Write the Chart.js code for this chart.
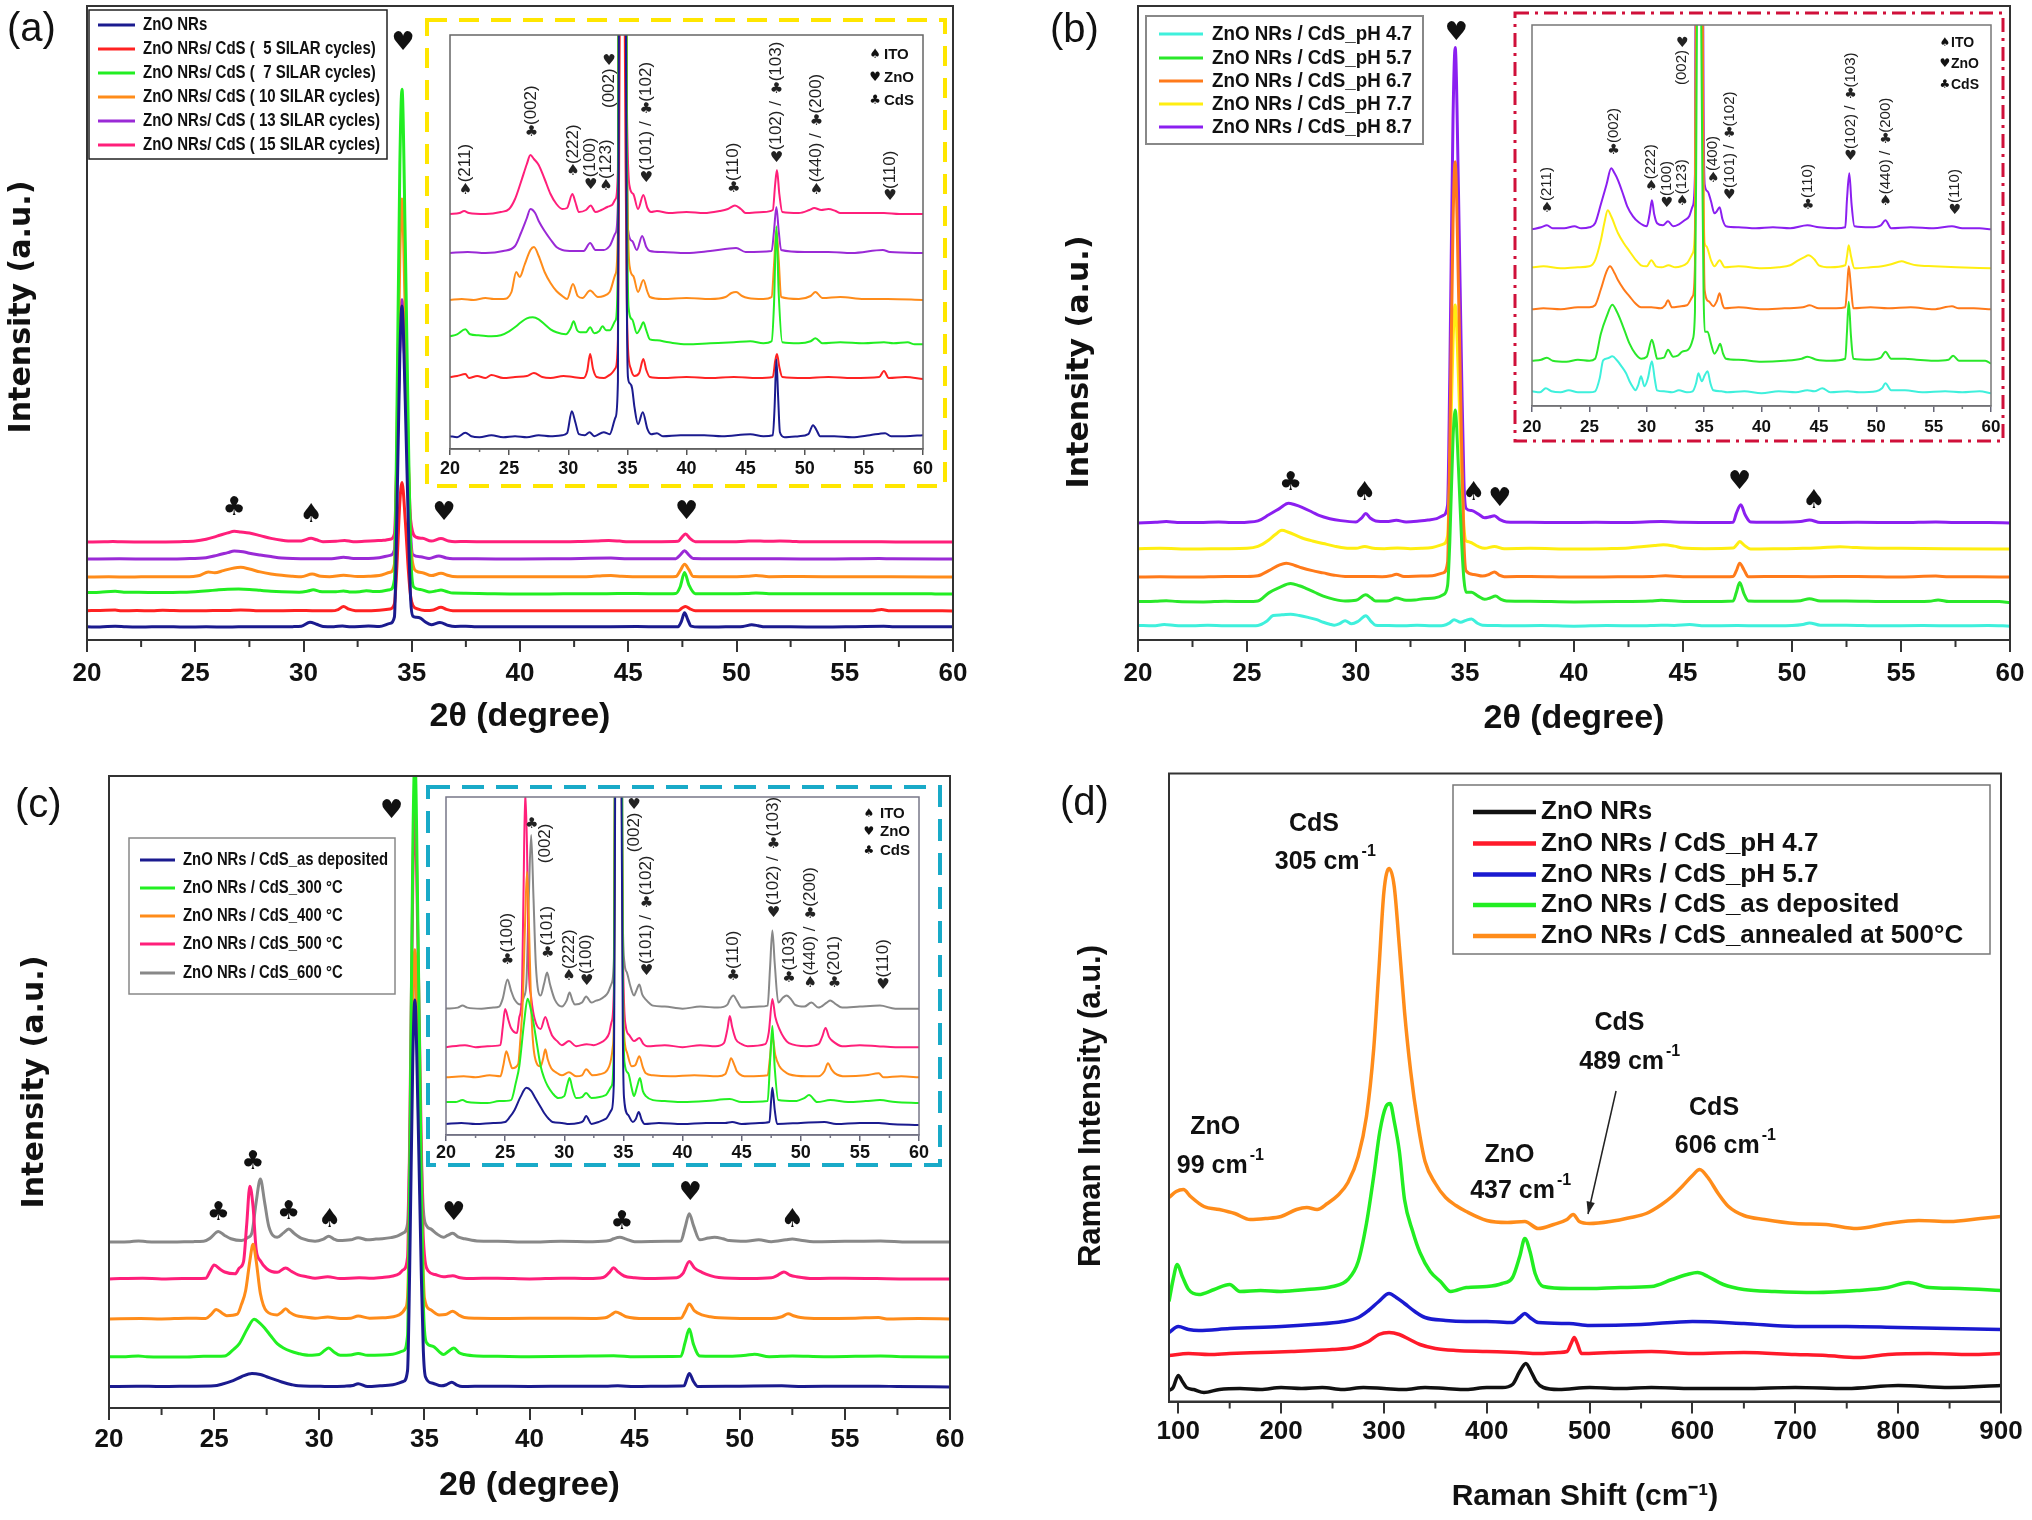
<!DOCTYPE html>
<html><head><meta charset="utf-8">
<script src="https://cdn.jsdelivr.net/npm/chart.js@4.4.0/dist/chart.umd.min.js"></script>
<style>
html,body{margin:0;padding:0;background:#fff;}
#page{position:relative;width:2032px;height:1520px;overflow:hidden;background:#fff;}
canvas{position:absolute;}
.plab{position:absolute;font-family:'Liberation Sans',Arial,sans-serif;font-size:40px;color:#111;line-height:40px;}
</style></head><body><div id="page">
<canvas id="cA" width="1016" height="760" style="left:0px;top:0px;width:1016px;height:760px"></canvas>
<canvas id="cB" width="992" height="760" style="left:1040px;top:0px;width:992px;height:760px"></canvas>
<canvas id="cC" width="1016" height="760" style="left:0px;top:760px;width:1016px;height:760px"></canvas>
<canvas id="cD" width="992" height="760" style="left:1040px;top:760px;width:992px;height:760px"></canvas>
<canvas id="iA" width="535" height="482" style="left:420px;top:12px;width:535px;height:482px"></canvas>
<canvas id="iB" width="510" height="445" style="left:1505px;top:5px;width:510px;height:445px"></canvas>
<canvas id="iC" width="530" height="395" style="left:420px;top:778px;width:530px;height:395px"></canvas>
<div class="plab" style="left:7px;top:7px">(a)</div>
<div class="plab" style="left:1050px;top:8px">(b)</div>
<div class="plab" style="left:15px;top:783px">(c)</div>
<div class="plab" style="left:1060px;top:781px">(d)</div>
</div>
<script>
// ======================= DATA =======================
const xTicksXRD = [20, 25, 30, 35, 40, 45, 50, 55, 60];
const minorXRD = [22.5, 27.5, 32.5, 37.5, 42.5, 47.5, 52.5, 57.5];
const ramanTicks = [100, 200, 300, 400, 500, 600, 700, 800, 900];
const ramanMinor = [150, 250, 350, 450, 550, 650, 750, 850];

// ---- (a) SILAR cycles : [2theta, intensity above own baseline] ----
const labelsA = ['ZnO NRs', 'ZnO NRs/ CdS (  5 SILAR cycles)', 'ZnO NRs/ CdS (  7 SILAR cycles)',
  'ZnO NRs/ CdS ( 10 SILAR cycles)', 'ZnO NRs/ CdS ( 13 SILAR cycles)', 'ZnO NRs/ CdS ( 15 SILAR cycles)'];
const a_ZnO = [[20,1],[20.6,0],[21.3,4.4],[21.8,1],[22.5,0],[23.5,2],[24.5,0],[25.5,1],[26.5,0],[27.5,2],[28.5,1],[29.5,2],[29.9,4],[30.3,26],[30.6,15],[30.9,3],[31.4,2],[31.8,5],[32.2,1],[33.0,5],[33.5,3],[34.0,20],[34.2,56],[34.3,530],[34.45,1500],[34.55,1766],[34.7,1240],[34.85,530],[34.95,150],[35.05,60],[35.2,54],[35.4,49],[35.6,30],[35.9,13],[36.3,25],[36.7,8],[37.0,3],[37.5,4],[38,1],[39.5,2],[41.5,2],[43,1],[45.4,3],[46.5,1],[47.3,2],[47.45,30],[47.6,78],[47.75,40],[47.9,5],[48.3,0],[49.5,1],[50.3,3],[50.7,12],[51.0,7],[51.3,1],[52.5,1],[54,0],[55.5,2],[56.8,4],[57.3,1],[58.5,1],[60,2]];
const a_S5 = [[20,2],[20.6,3],[21.3,5],[21.6,1],[22.3,3],[23,1],[23.5,4],[24.5,1],[25.5,2],[26.5,3],[27.1,6],[27.8,2],[28.5,1],[29.6,3],[30.4,2],[31.3,1],[31.6,8],[31.85,25],[32.1,10],[32.4,2],[33.0,1],[33.5,4],[34.0,11],[34.2,40],[34.3,212],[34.45,600],[34.55,707],[34.7,500],[34.85,212],[34.95,80],[35.05,31],[35.3,10],[35.6,3],[36.0,6],[36.35,20],[36.6,9],[36.9,2],[38,1],[40,2],[42,1],[44,2],[46,1],[47.3,2],[47.5,18],[47.65,25],[47.85,12],[48.1,2],[50,1],[52,2],[54,1],[56.3,2],[56.7,8],[57.1,1],[58.5,2],[60,0]];
const a_S7 = [[20,8],[20.6,10],[21.3,15],[21.7,10],[22.4,9],[23.5,8],[24.3,9],[25.0,13],[25.6,18],[26.0,22],[26.5,26],[27.0,27],[27.5,25],[28.0,20],[28.5,15],[29.0,12],[29.8,10],[30.2,16],[30.45,23],[30.75,14],[31.0,12],[31.5,12],[31.85,17],[32.2,11],[32.6,13],[32.9,18],[33.2,14],[33.5,14],[34.0,24],[34.2,80],[34.3,830],[34.45,2360],[34.55,2776],[34.7,1940],[34.85,830],[34.95,230],[35.1,37],[35.4,25],[35.8,11],[36.1,16],[36.35,22],[36.6,14],[36.9,5],[37.5,4],[38.5,2],[40,0],[42,1],[44,2],[45.4,3],[46.5,1],[47.2,3],[47.4,40],[47.6,118],[47.8,50],[48.1,2],[49.5,1],[50.5,3],[50.9,6],[51.5,1],[53,2],[55,1],[56.7,2],[57.5,1],[58.7,2],[59.3,0],[60,0]];
const a_S10 = [[20,0],[21,1],[22,0],[23,2],[23.7,1],[24.5,1],[25.2,8],[25.6,28],[25.9,23],[26.3,35],[26.8,50],[27.1,53],[27.5,44],[28.0,28],[28.5,17],[29.0,9],[29.5,4],[29.9,1],[30.4,16],[30.8,4],[31.2,2],[31.85,9.5],[32.5,3],[33.0,4],[33.5,8],[34.0,26],[34.2,70],[34.3,620],[34.45,1770],[34.55,2079],[34.7,1460],[34.85,620],[34.95,180],[35.2,33],[35.5,24],[35.9,8],[36.35,20],[36.7,8],[36.9,3],[38,1],[40,2],[42,1],[43.3,3],[43.8,7],[44.2,8],[44.7,4],[45.2,2],[46.5,1],[47.2,3],[47.4,35],[47.6,70],[47.8,40],[48.0,3],[49.5,1],[50.5,4],[50.9,8],[51.5,2],[53,3],[55,1],[57,1],[60,0]];
const a_S13 = [[20,0],[21.5,1],[23,0],[24.5,2],[25.5,7],[26.0,20],[26.5,35],[26.8,44],[27.2,40],[27.5,32],[28.0,22],[28.5,13.5],[29.0,6],[29.5,3],[30.4,2],[31.3,2],[31.85,10],[32.3,3],[33.0,3],[33.5,7],[34.0,20],[34.2,50],[34.3,430],[34.45,1210],[34.55,1426],[34.7,1000],[34.85,430],[34.95,130],[35.05,24],[35.4,12],[35.8,3],[36.25,17],[36.6,6],[36.9,2],[38,1],[40,0],[42,2],[44.2,5],[45,1],[47.2,2],[47.4,22],[47.6,46],[47.8,22],[48.0,3],[50,1],[52,1],[54,0],[56.6,3],[57.2,1],[60,0]];
const a_S15 = [[20,0],[20.8,1],[21.2,3],[21.6,1],[23,0],[24.3,2],[25.0,5],[25.5,15],[26.0,32],[26.5,50],[26.8,59],[27.1,55],[27.5,49],[28.0,35],[28.5,20],[29.0,10],[29.5,5],[29.9,6],[30.35,20],[30.6,12],[30.9,2],[31.5,4],[31.9,8.5],[32.3,2],[32.8,4],[33.3,7],[33.7,9],[34.0,15],[34.2,45],[34.3,390],[34.45,1110],[34.55,1307],[34.7,915],[34.85,390],[34.95,120],[35.2,27],[35.5,20],[35.9,5],[36.35,19],[36.7,6],[37.0,2],[37.5,3],[38.5,1],[40,2],[41.5,1],[42.8,3],[43.5,5],[44.1,8.5],[44.6,5],[45,1],[46.5,2],[47.3,4],[47.5,30],[47.65,44],[47.85,20],[48.1,2],[49.5,1],[50.4,4],[50.8,6],[51.4,4],[52,5],[52.6,3],[53,1],[55,1],[56.7,1],[58,0],[60,0]];
const offA_main = [71.5, 159.5, 253, 346.5, 445.5, 539];
const offA_inset = [11.8, 70, 104.7, 149, 196, 235];

// ---- (b) pH ----
const labelsB = ['ZnO NRs / CdS_pH 4.7', 'ZnO NRs / CdS_pH 5.7', 'ZnO NRs / CdS_pH 6.7', 'ZnO NRs / CdS_pH 7.7', 'ZnO NRs / CdS_pH 8.7'];
const b_pH47 = [[20,2],[20.7,1],[21.2,5],[21.7,2],[22.5,1],[23.2,3],[24,1],[25.0,1],[25.5,2],[25.9,15],[26.2,33],[26.6,35],[27.0,37],[27.4,33],[27.8,27],[28.2,20],[28.5,12],[28.8,6],[29.0,3],[29.25,8],[29.5,17],[29.8,7],[30.1,15],[30.45,32],[30.7,14],[30.9,3],[31.5,2],[32.2,1],[32.8,3],[33.5,1],[34.0,2],[34.3,10],[34.5,20],[34.8,12],[35.05,18],[35.3,22],[35.55,10],[35.8,3],[36.5,2],[37,1],[38.5,2],[40,0],[41.5,2],[43,1],[44.0,3],[44.6,2],[45.3,5],[46,1],[47.5,2],[48.5,1],[50.0,2],[50.5,5],[50.8,10],[51.3,3],[52.5,3],[54,1],[56,2],[57.5,1],[59,2],[60,0]];
const b_pH57 = [[20,1],[20.8,2],[21.3,4],[21.8,1],[23,0],[24,2],[25.0,1],[25.5,3],[26.0,28],[26.5,45],[27.0,57],[27.4,50],[27.7,42],[28.1,30],[28.5,18],[29.0,8],[29.5,3],[30.0,5],[30.45,22],[30.7,12],[30.9,3],[31.5,4],[31.85,12],[32.3,5],[32.7,6],[33.1,10],[33.6,12],[34.0,22],[34.2,50],[34.3,180],[34.45,505],[34.55,595],[34.7,415],[34.85,180],[34.95,70],[35.05,30],[35.3,30],[35.6,18],[35.9,8],[36.15,12],[36.4,18],[36.65,8],[36.9,3],[38,2],[40,0],[42,1],[43.5,3],[44.0,5],[44.8,2],[46,1],[47.3,3],[47.45,30],[47.6,60],[47.8,25],[48.0,3],[49.5,2],[50.4,4],[50.8,10],[51.3,3],[52.5,3],[53.5,2],[55,1],[56.3,2],[56.7,6],[57.2,1],[58.5,1],[59.5,1],[60,-2]];
const b_pH67 = [[20,0],[21,1],[22.5,0],[24,2],[25.0,2],[25.5,4],[26.0,20],[26.5,38],[26.8,43],[27.2,36],[27.5,29],[28.0,20],[28.5,13],[29.0,6],[29.5,2],[30.4,2],[31.2,1],[31.6,4],[31.85,9],[32.2,2],[33.0,3],[33.5,4],[34.0,13],[34.2,45],[34.3,390],[34.45,1095],[34.55,1287],[34.7,900],[34.85,390],[34.95,110],[35.05,19],[35.4,8],[35.8,3],[36.1,8],[36.35,16],[36.6,5],[36.8,1],[38,2],[40,0],[42,1],[43.6,2],[44.2,4],[45,1],[46.5,1],[47.3,2],[47.45,20],[47.6,43],[47.8,22],[48.0,1],[49.5,2],[51,1],[53,2],[55,0],[56.6,3],[57.2,1],[58.5,1],[60,0]];
const b_pH77 = [[20,1],[21,2],[22.5,0],[24,1],[25.0,2],[25.5,8],[26.0,28],[26.3,45],[26.6,58],[26.9,52],[27.5,35],[28.0,25],[28.5,17],[29.0,9],[29.5,3],[30.0,2],[30.4,8],[30.8,2],[31.3,1],[31.9,3],[32.5,1],[33.0,2],[33.5,5],[34.0,15],[34.2,40],[34.3,230],[34.45,640],[34.55,756],[34.7,530],[34.85,230],[34.95,70],[35.05,25],[35.2,22],[35.6,8],[35.9,2],[36.35,8],[36.8,1],[38,2],[40,0],[41.5,1],[42.5,3],[43.2,8],[43.7,11],[44.1,13],[44.6,9],[45.0,3],[46,1],[47.3,3],[47.45,12],[47.6,23],[47.8,12],[48.1,0],[49.5,1],[50.5,2],[51.3,4],[52.2,7],[52.8,5],[53.5,3],[55,2],[57,1],[60,0]];
const b_pH87 = [[20,0],[20.8,2],[21.3,4],[21.8,1],[22.8,1],[23.7,3],[24.3,1],[25.0,2],[25.5,6],[26.0,25],[26.5,45],[26.9,61],[27.2,56],[27.5,49],[28.0,33],[28.3,23],[28.8,13],[29.3,7],[30.0,3],[30.25,15],[30.45,29],[30.65,15],[30.9,6],[31.4,4],[31.85,8],[32.3,3],[32.8,5],[33.3,9],[33.7,13],[34.0,23],[34.2,55],[34.3,445],[34.45,1250],[34.55,1473],[34.7,1030],[34.85,445],[34.95,130],[35.05,45],[35.3,38],[35.6,28],[35.9,16],[36.1,18],[36.35,22],[36.6,10],[36.9,3],[38,2],[39.5,1],[41,2],[42.5,1],[44.0,4],[45,2],[46.5,1],[47.3,2],[47.45,30],[47.65,56],[47.85,25],[48.1,3],[49.5,2],[50.4,4],[50.8,9],[51.3,1],[53,2],[55,1],[56.6,3],[57.5,1],[59,1],[60,0]];
const offB_main = [43, 118, 195, 282, 363];
const offB_inset = [12.7, 44.3, 96.7, 137.7, 176.7];

// ---- (c) annealing ----
const labelsC = ['ZnO NRs / CdS_as deposited', 'ZnO NRs / CdS_300 °C', 'ZnO NRs / CdS_400 °C', 'ZnO NRs / CdS_500 °C', 'ZnO NRs / CdS_600 °C'];
const c_asDep = [[20,1],[21.3,2],[22.5,1],[24,2],[25.0,3],[25.4,8],[25.8,15],[26.3,28],[26.8,37],[27.2,34],[27.5,28],[28.0,18],[28.3,12],[28.7,6],[29.0,3],[29.8,2],[30.4,1],[31.2,2],[31.6,4],[31.85,9],[32.3,1],[32.9,3],[33.5,6],[34.0,15],[34.2,45],[34.3,320],[34.45,905],[34.55,1064],[34.7,745],[34.85,320],[34.95,100],[35.05,28],[35.4,10],[35.8,3],[36.05,6],[36.3,13],[36.55,5],[36.8,1],[38,2],[40,1],[42,2],[43.6,2],[44.2,3],[45,1],[46.5,2],[47.35,3],[47.5,25],[47.6,37],[47.8,15],[48.0,1],[50,2],[52,3],[53,1],[55,2],[56.6,2],[57.5,1],[60,0]];
const c_T300 = [[20,1],[20.8,1],[21.4,3],[21.8,1],[23.5,0],[24.5,2],[25.5,3],[25.9,20],[26.2,37],[26.6,80],[26.9,104],[27.2,92],[27.4,80],[27.7,58],[28.0,37],[28.3,25],[28.6,17],[29.0,10],[29.5,5],[30.0,7],[30.25,18],[30.45,25],[30.7,14],[31.0,5],[31.5,6],[31.85,10],[32.3,5],[33.0,6],[33.5,8],[34.0,17],[34.2,60],[34.3,500],[34.45,1400],[34.55,1650],[34.7,1155],[34.85,500],[34.95,150],[35.1,40],[35.4,30],[35.7,15],[35.9,7],[36.15,16],[36.4,25],[36.65,12],[36.9,7],[37.5,3],[38.5,2],[40,1],[42,2],[44.0,4],[45.0,1],[47.2,2],[47.4,40],[47.6,77],[47.8,35],[48.1,3],[49.5,2],[50.3,5],[50.7,8],[51.4,1],[52.5,3],[54,1],[55.5,2],[56.7,3],[58,1],[60,0]];
const c_T400 = [[20,0],[21.5,1],[22.5,0],[23.7,2],[24.6,1],[24.85,12],[25.1,26],[25.4,15],[25.6,9],[26.1,13],[26.3,40],[26.5,78],[26.7,160],[26.85,205],[27.0,160],[27.2,70],[27.5,21],[28.0,11],[28.2,18],[28.4,28],[28.6,18],[28.9,9],[29.3,5],[29.8,2],[30.4,5],[31.0,1],[31.5,2],[31.85,8],[32.4,2],[33.0,3],[33.8,11],[34.1,30],[34.2,60],[34.3,305],[34.45,860],[34.55,1015],[34.7,710],[34.85,305],[34.95,120],[35.0,58],[35.3,25],[35.7,11],[36.0,12],[36.35,21],[36.65,10],[36.9,4],[37.5,2],[39,1],[41,2],[43,1],[43.6,3],[43.9,12],[44.1,19],[44.4,12],[44.6,6],[45.5,1],[47.2,2],[47.4,20],[47.6,41],[47.85,22],[48.2,11],[48.6,6],[49.0,3],[50.5,1],[51.5,1],[52.0,6],[52.3,14],[52.6,8],[52.9,4],[53.8,1],[55.5,2],[56.6,4],[57.0,0],[58.5,1],[60,0]];
const c_T500 = [[20,0],[21.6,2],[22.5,0],[23.5,1],[24.6,2],[24.8,20],[25.0,38],[25.3,26],[25.5,19],[26.0,14],[26.2,30],[26.4,48],[26.55,150],[26.7,255],[26.85,200],[27.0,81],[27.2,50],[27.5,28],[28.0,18],[28.4,30],[28.7,20],[29.0,11],[29.4,6],[29.8,2],[30.4,6],[31.0,1],[31.9,3],[32.5,2],[33.0,4],[33.5,8],[33.8,14],[34.0,25],[34.2,60],[34.3,385],[34.45,1090],[34.55,1282],[34.7,900],[34.85,385],[34.95,110],[35.2,21],[35.5,12],[35.9,6],[36.35,9],[36.7,3],[37,1],[38.5,2],[40,0],[41.5,2],[42.8,1],[43.5,4],[43.8,18],[44.0,31],[44.2,20],[44.5,8],[45.0,3],[45.5,1],[47.0,3],[47.3,15],[47.6,48],[47.85,30],[48.2,18],[48.6,9],[49.0,4],[50.5,1],[51.5,3],[51.8,10],[52.1,19],[52.4,10],[52.7,6],[53.5,1],[55,2],[56.5,1],[58,0],[60,0]];
const c_T600 = [[20,0],[21.0,1],[21.4,3],[21.8,1],[23,0],[24.0,1],[24.5,2],[24.8,10],[25.2,29],[25.5,18],[25.8,9],[26.3,4],[26.6,12],[26.8,26],[27.0,110],[27.2,173],[27.4,110],[27.6,43],[28.0,13],[28.3,25],[28.55,36],[28.8,24],[29.2,9],[29.8,2],[30.2,8],[30.45,16],[30.7,8],[30.9,4],[31.5,6],[31.85,12],[32.3,6],[32.7,8],[33.0,9],[33.4,12],[33.7,16],[34.0,25],[34.2,50],[34.3,235],[34.45,660],[34.55,775],[34.7,540],[34.85,235],[34.95,90],[35.1,45],[35.3,36],[35.6,22],[35.9,13],[36.1,18],[36.35,24],[36.6,14],[36.9,9],[37.5,3],[38.5,2],[40,0],[41.5,2],[43,1],[43.8,4],[44.0,9],[44.3,13],[44.6,8],[45.0,1],[46.5,2],[47.2,3],[47.4,40],[47.6,78],[47.8,45],[48.1,6],[48.5,11],[48.8,13],[49.2,9],[49.5,4],[50.3,2],[50.9,6],[51.5,1],[52.2,6],[52.5,8],[52.9,5],[53.5,1],[55,2],[56.7,3],[58,0],[60,0]];
const offC_main = [58, 140, 245, 355, 456.5];
const offC_inset = [10, 31.8, 57.5, 87.6, 126];

// ---- (d) Raman : [shift cm-1, intensity a.u.] ----
const labelsD = ['ZnO NRs', 'ZnO NRs / CdS_pH 4.7', 'ZnO NRs / CdS_pH 5.7', 'ZnO NRs / CdS_as deposited', 'ZnO NRs / CdS_annealed at 500°C'];
const d_ZnO = [[91,11],[95,14],[100,26],[104,20],[108,14],[115,12],[125,9],[140,12],[160,13],[180,12],[200,14],[220,13],[240,14],[260,12],[280,14],[300,13],[320,12],[340,14],[360,13],[380,12],[400,14],[415,14],[425,17],[432,30],[438,38],[443,30],[448,20],[455,14],[470,12],[500,14],[530,13],[560,14],[600,13],[650,13],[700,14],[750,13],[800,16],[850,14],[900,16]];
const d_pH47 = [[91,46],[110,48],[130,47],[150,48],[180,49],[210,50],[250,52],[270,54],[285,60],[295,67],[305,69],[315,67],[325,62],[335,57],[350,53],[370,51],[400,50],[430,49],[450,48],[470,49],[478,50],[482,58],[485,64],[488,58],[492,48],[520,49],[560,50],[600,48],[650,49],[700,47],[730,46],[760,44],[790,47],[830,48],[870,47],[900,48]];
const d_pH57 = [[91,69],[100,75],[110,72],[120,71],[150,73],[200,75],[230,77],[260,80],[275,84],[285,91],[295,100],[305,108],[312,104],[320,98],[330,90],[340,84],[360,81],[380,80],[400,80],[425,79],[432,84],[437,88],[442,84],[450,79],[480,78],[500,76],[550,77],[600,80],[650,78],[700,75],[750,75],[800,74],[850,73],[900,72]];
const d_asDep = [[91,100],[95,122],[99,137],[104,125],[110,112],[120,107],[135,112],[150,117],[160,110],[180,111],[200,110],[225,112],[250,115],[265,122],[275,140],[283,178],[290,225],[296,270],[302,295],[306,298],[310,280],[315,250],[320,202],[328,170],[335,149],[345,130],[355,120],[365,110],[380,114],[400,115],[415,118],[425,124],[432,145],[437,163],[442,150],[447,128],[455,115],[480,113],[500,113],[530,114],[560,115],[580,122],[595,127],[605,129],[615,125],[630,117],[650,112],[680,110],[720,109],[760,111],[790,114],[810,119],[830,114],[860,113],[900,111]];
const d_ann500 = [[91,204],[98,210],[105,212],[112,205],[125,195],[140,192],[155,188],[170,182],[185,183],[200,185],[215,192],[225,194],[235,192],[245,198],[255,206],[265,219],[275,245],[283,285],[290,352],[295,430],[300,510],[305,533],[310,515],[315,455],[320,390],[326,330],[333,278],[340,240],[350,218],[360,204],[370,196],[380,190],[400,181],[420,179],[437,180],[450,173],[465,177],[478,182],[484,187],[490,180],[500,178],[520,180],[540,184],[555,188],[570,197],[580,205],[590,215],[600,226],[607,232],[615,224],[625,208],[635,195],[650,186],[670,182],[700,178],[730,177],[760,173],[790,178],[820,181],[850,180],[880,183],[900,185]];
const offD = [0, 0, 0, 0, 0];

// ---- peak markers / annotations (data coordinates) ----
const symA = [{x:26.8,y:726,c:'♣'},{x:30.35,y:687,c:'♠'},{x:34.6,y:3280,c:'♥'},{x:36.5,y:698,c:'♥'},{x:47.7,y:704,c:'♥'}];
const symB = [{x:27.0,y:487,c:'♣'},{x:30.4,y:456,c:'♠'},{x:34.6,y:1882,c:'♥'},{x:35.4,y:456,c:'♠'},{x:36.6,y:437,c:'♥'},{x:47.6,y:490,c:'♥'},{x:51.0,y:431,c:'♠'}];
const symC = [{x:25.2,y:536,c:'♣'},{x:26.85,y:676,c:'♣'},{x:28.55,y:539,c:'♣'},{x:30.5,y:517,c:'♠'},{x:33.44,y:1640,c:'♥'},{x:36.4,y:536,c:'♥'},{x:44.4,y:511,c:'♣'},{x:47.65,y:591,c:'♥'},{x:52.5,y:517,c:'♠'}];
const hklA = [{x:21.3,y:251.7,t:'♠(211)'},{x:26.9,y:309,t:'♣(002)'},{x:30.4,y:270,t:'♠(222)'},{x:31.9,y:256.8,t:'♥(100)'},{x:33.2,y:255,t:'♠(123)'},{x:33.45,y:341,t:'(002)♥'},{x:36.6,y:263.5,t:'♥(101) / ♣(102)'},{x:44.0,y:253,t:'♣(110)'},{x:47.6,y:283.8,t:'♥(102) / ♣(103)'},{x:51.0,y:251.7,t:'♠(440) / ♣(200)'},{x:57.2,y:245,t:'♥(110)'}];
const hklB = [{x:21.3,y:191,t:'♠(211)'},{x:27.1,y:249,t:'♣(002)'},{x:30.4,y:212.7,t:'♠(222)'},{x:31.75,y:196,t:'♥(100)'},{x:33.1,y:197.7,t:'♠(123)'},{x:33.1,y:321,t:'(002)♥'},{x:35.8,y:221,t:'♠(400)'},{x:37.2,y:204,t:'♥(101) / ♣(102)'},{x:44.05,y:194,t:'♣(110)'},{x:47.75,y:243,t:'♥(102) / ♣(103)'},{x:50.8,y:197.7,t:'♠(440) / ♣(200)'},{x:56.85,y:189,t:'♥(110)'}];
const hklC = [{x:25.2,y:167,t:'♣(100)'},{x:27.25,y:302,t:'♣'},{x:28.4,y:271,t:'(002)'},{x:28.6,y:174,t:'♣(101)'},{x:30.4,y:150.5,t:'♠(222)'},{x:31.9,y:145.5,t:'♥(100)'},{x:35.9,y:282,t:'(002)♥'},{x:36.95,y:155.5,t:'♥(101) / ♣(102)'},{x:44.3,y:150.5,t:'♣(110)'},{x:47.7,y:214,t:'♥(102) / ♣(103)'},{x:49.0,y:149,t:'♣(103)'},{x:50.8,y:144,t:'♠(440) / ♣(200)'},{x:52.85,y:144,t:'♣(201)'},{x:56.95,y:142,t:'♥(110)'}];
const phaseKey = [['♠','ITO'],['♥','ZnO'],['♣','CdS']];
const notesD = [{x:232,y:577,t:'CdS'},{x:243,y:539,t:'305 cm',sup:'-1'},{x:136,y:274,t:'ZnO'},{x:141,y:235,t:'99 cm',sup:'-1'},{x:422,y:246,t:'ZnO'},{x:433,y:210,t:'437 cm',sup:'-1'},{x:529,y:378,t:'CdS'},{x:539,y:339,t:'489 cm',sup:'-1'},{x:621,y:293,t:'CdS'},{x:632,y:255,t:'606 cm',sup:'-1'}];
const arrowD = {x1:525.7, y1:310.5, x2:498.4, y2:187.5};

// ======================= STYLE / LAYOUT =======================
const SANS = "'Liberation Sans', Arial, Helvetica, sans-serif";
const WIDE = "'DejaVu Sans', Verdana, sans-serif";
const SYM = "'DejaVu Sans', sans-serif";
Chart.defaults.font.family = SANS;
Chart.defaults.color = '#111';

const colorsA = ['#1b1b8f', '#ff2222', '#22ee22', '#ff8c1a', '#9a2ad6', '#ff1f7a'];
const colorsB = ['#3ff0dc', '#2ae82a', '#ff7a1a', '#ffee11', '#8b1ff0'];
const colorsC = ['#1b1b8f', '#22f022', '#ff8c1a', '#ff1f7a', '#888888'];
const colorsD = ['#111111', '#ff1a2a', '#1a1ad0', '#22ee22', '#ff8c1a'];

const PANELS = {};

function drawStack(ctx, px, py, str, tFont, sFont, sSize) {
  let y = py;
  const runs = str.match(/[♠♣♥]|[^♠♣♥]+/g) || [];
  for (const r of runs) {
    if ('♠♣♥'.includes(r)) {
      ctx.font = sFont; ctx.textAlign = 'center'; ctx.textBaseline = 'middle';
      ctx.fillText(r, px, y - sSize / 2);
      y -= sSize;
    } else {
      ctx.font = tFont;
      const w = ctx.measureText(r).width;
      ctx.save(); ctx.translate(px, y); ctx.rotate(-Math.PI / 2);
      ctx.textAlign = 'left'; ctx.textBaseline = 'middle';
      ctx.fillText(r, 0, 0); ctx.restore();
      y -= w;
    }
  }
}

const panelPlugin = {
  id: 'panel',
  beforeDraw(chart) {
    const o = PANELS[chart.canvas.id]; if (!o || !o.inset) return;
    const ctx = chart.ctx, f = o.inset;
    ctx.save();
    ctx.fillStyle = '#fff'; ctx.fillRect(f.x, f.y, f.w, f.h);
    ctx.setLineDash(f.dash); ctx.strokeStyle = f.color; ctx.lineWidth = f.lw;
    ctx.strokeRect(f.x, f.y, f.w, f.h);
    ctx.restore();
  },
  afterDraw(chart) {
    const o = PANELS[chart.canvas.id]; if (!o) return;
    const {ctx, chartArea: ca, scales} = chart;
    const xs = scales.x, ys = scales.y;
    ctx.save();
    ctx.strokeStyle = o.frameColor; ctx.lineWidth = o.frameW;
    ctx.strokeRect(ca.left, ca.top, ca.right - ca.left, ca.bottom - ca.top);
    ctx.beginPath();
    for (const v of o.minor) { const px = xs.getPixelForValue(v); ctx.moveTo(px, ca.bottom); ctx.lineTo(px, ca.bottom + o.minorLen); }
    ctx.strokeStyle = o.frameColor; ctx.lineWidth = o.tickW; ctx.stroke();
    if (o.yTitle) {
      const T = o.yTitle;
      ctx.save(); ctx.translate(T.x, T.y); ctx.rotate(-Math.PI / 2);
      ctx.font = T.font; ctx.fillStyle = '#111'; ctx.textAlign = 'center'; ctx.textBaseline = 'middle';
      ctx.fillText(T.text, 0, 0); ctx.restore();
    }
    if (o.legend) {
      const L = o.legend;
      ctx.fillStyle = '#fff'; ctx.fillRect(L.x, L.y, L.w, L.h);
      ctx.strokeStyle = L.border; ctx.lineWidth = L.bw; ctx.strokeRect(L.x, L.y, L.w, L.h);
      ctx.font = L.font; ctx.textBaseline = 'middle'; ctx.textAlign = 'left';
      const maxW = Math.max(...chart.data.datasets.map(d => ctx.measureText(d.label).width));
      const sx = L.tw ? Math.min(1, L.tw / maxW) : 1;
      chart.data.datasets.forEach((d, i) => {
        const y = L.rows[i];
        ctx.strokeStyle = d.borderColor; ctx.lineWidth = L.lw;
        ctx.beginPath(); ctx.moveTo(L.x0, y); ctx.lineTo(L.x0 + L.len, y); ctx.stroke();
        ctx.save(); ctx.translate(L.tx, y); ctx.scale(sx, 1);
        ctx.fillStyle = '#111'; ctx.fillText(d.label, 0, 0); ctx.restore();
      });
    }
    ctx.fillStyle = '#111';
    if (o.symbols) {
      ctx.font = o.symFont; ctx.textAlign = 'center'; ctx.textBaseline = 'middle';
      for (const s of o.symbols) ctx.fillText(s.c, xs.getPixelForValue(s.x), ys.getPixelForValue(s.y));
    }
    if (o.hkl) {
      ctx.fillStyle = '#222';
      for (const h of o.hkl) drawStack(ctx, xs.getPixelForValue(h.x), ys.getPixelForValue(h.y), h.t, o.hklFont, o.hklSym, o.hklSymSize);
    }
    if (o.key) {
      const K = o.key; ctx.fillStyle = '#111'; ctx.textBaseline = 'middle';
      phaseKey.forEach((k, i) => {
        const y = K.y0 + i * K.dy;
        ctx.font = K.symFont; ctx.textAlign = 'center'; ctx.fillText(k[0], K.sx, y);
        ctx.font = K.font; ctx.textAlign = 'left'; ctx.fillText(k[1], K.tx, y);
      });
    }
    if (o.notes) {
      ctx.fillStyle = '#111'; ctx.textBaseline = 'middle'; ctx.textAlign = 'left';
      for (const n of o.notes) {
        ctx.font = o.noteFont; const w1 = ctx.measureText(n.t).width;
        let w2 = 0; if (n.sup) { ctx.font = o.supFont; w2 = ctx.measureText(n.sup).width + 2; }
        const cx = xs.getPixelForValue(n.x), cy = ys.getPixelForValue(n.y);
        const x0 = cx - (w1 + w2) / 2;
        ctx.font = o.noteFont; ctx.fillText(n.t, x0, cy);
        if (n.sup) { ctx.font = o.supFont; ctx.fillText(n.sup, x0 + w1 + 2, cy - 11); }
      }
    }
    if (o.arrow) {
      const A = o.arrow;
      const x1 = xs.getPixelForValue(A.x1), y1 = ys.getPixelForValue(A.y1);
      const x2 = xs.getPixelForValue(A.x2), y2 = ys.getPixelForValue(A.y2);
      ctx.strokeStyle = '#222'; ctx.lineWidth = 1.5;
      ctx.beginPath(); ctx.moveTo(x1, y1); ctx.lineTo(x2, y2); ctx.stroke();
      const ang = Math.atan2(y2 - y1, x2 - x1), L = 13, wA = 0.33;
      ctx.fillStyle = '#222'; ctx.beginPath();
      ctx.moveTo(x2, y2);
      ctx.lineTo(x2 - L * Math.cos(ang - wA), y2 - L * Math.sin(ang - wA));
      ctx.lineTo(x2 - L * Math.cos(ang + wA), y2 - L * Math.sin(ang + wA));
      ctx.closePath(); ctx.fill();
    }
    ctx.restore();
  }
};

function toPts(series, off) { return series.map(p => ({x: p[0], y: p[1] + off})); }

function makeChart(id, s) {
  const canvas = document.getElementById(id);
  const W = canvas.width, H = canvas.height, A = s.area;
  const datasets = s.series.map((ser, i) => ({
    label: s.labels[i], data: toPts(ser, s.offsets[i]),
    borderColor: s.colors[i], backgroundColor: s.colors[i],
    borderWidth: s.lw, pointRadius: 0, fill: false, cubicInterpolationMode: 'monotone'
  }));
  return new Chart(canvas, {
    type: 'line',
    data: {datasets},
    options: {
      responsive: false, animation: false, devicePixelRatio: 1,
      layout: {padding: {left: A.left, top: A.top, right: W - A.right, bottom: 0}},
      plugins: {legend: {display: false}, tooltip: {enabled: false}},
      scales: {
        x: {
          type: 'linear', min: s.xmin, max: s.xmax,
          afterBuildTicks: sc => { sc.ticks = s.ticks.map(v => ({value: v})); },
          afterFit: sc => { sc.height = H - A.bottom; },
          ticks: {font: s.tickFont, color: '#111', padding: s.tickPad, maxRotation: 0, autoSkip: false, callback: v => String(v)},
          grid: {drawOnChartArea: false, drawTicks: true, tickLength: s.tickLen, color: s.axisColor, lineWidth: s.axisW},
          border: {display: true, color: s.axisColor, width: s.axisW},
          title: s.xTitle ? {display: true, text: s.xTitle, font: s.xTitleFont, color: '#111', padding: {top: 0, bottom: s.xTitlePad}} : {display: false}
        },
        y: {type: 'linear', min: 0, max: s.ymax, display: false}
      }
    },
    plugins: [panelPlugin]
  });
}

const seriesA = [a_ZnO, a_S5, a_S7, a_S10, a_S13, a_S15];
const seriesB = [b_pH47, b_pH57, b_pH67, b_pH77, b_pH87];
const seriesC = [c_asDep, c_T300, c_T400, c_T500, c_T600];
const seriesD = [d_ZnO, d_pH47, d_pH57, d_asDep, d_ann500];

const bigTick = {family: SANS, size: 26, weight: 'bold'};
const xTitleF = {family: SANS, size: 34, weight: 'bold'};
const yTitleFont = 'bold 30px ' + WIDE;

// ---- main panels ----
PANELS.cA = {frameColor: '#333', frameW: 2, tickW: 2, minor: minorXRD, minorLen: 7,
  yTitle: {text: 'Intensity (a.u.)', x: 22, y: 307, font: yTitleFont},
  legend: {x: 89, y: 10, w: 298, h: 149, rows: [25, 49, 73, 97, 121, 145], x0: 98, len: 37, tx: 143, tw: 237, font: 'bold 18px ' + SANS, lw: 3, border: '#222', bw: 1.5},
  symbols: symA, symFont: '26px ' + SYM};
makeChart('cA', {area: {left: 87, top: 6, right: 953, bottom: 640}, xmin: 20, xmax: 60, ticks: xTicksXRD,
  tickFont: bigTick, tickPad: 6.4, tickLen: 12, axisColor: '#333', axisW: 2, ymax: 3487,
  series: seriesA, offsets: offA_main, labels: labelsA, colors: colorsA, lw: 3,
  xTitle: '2θ (degree)', xTitleFont: xTitleF, xTitlePad: 22.6});

PANELS.cB = {frameColor: '#333', frameW: 2, tickW: 2, minor: minorXRD, minorLen: 7,
  yTitle: {text: 'Intensity (a.u.)', x: 40, y: 362, font: yTitleFont},
  legend: {x: 106, y: 16, w: 277, h: 128, rows: [34, 58, 81, 104, 127], x0: 119, len: 44, tx: 172, tw: 200, font: 'bold 20px ' + SANS, lw: 3, border: '#888', bw: 2},
  symbols: symB, symFont: '26px ' + SYM};
makeChart('cB', {area: {left: 98, top: 6, right: 970, bottom: 640}, xmin: 20, xmax: 60, ticks: xTicksXRD,
  tickFont: bigTick, tickPad: 6.4, tickLen: 12, axisColor: '#333', axisW: 2, ymax: 1965,
  series: seriesB, offsets: offB_main, labels: labelsB, colors: colorsB, lw: 3,
  xTitle: '2θ (degree)', xTitleFont: xTitleF, xTitlePad: 20.6});

PANELS.cC = {frameColor: '#333', frameW: 2, tickW: 2, minor: minorXRD, minorLen: 7,
  yTitle: {text: 'Intensity (a.u.)', x: 35, y: 322, font: yTitleFont},
  legend: {x: 129, y: 78, w: 266, h: 156, rows: [100, 128, 156, 184, 213], x0: 140, len: 35, tx: 183, tw: 205, font: 'bold 19px ' + SANS, lw: 3, border: '#888', bw: 1.5},
  symbols: symC, symFont: '26px ' + SYM};
makeChart('cC', {area: {left: 109, top: 16, right: 950, bottom: 648}, xmin: 20, xmax: 60, ticks: xTicksXRD,
  tickFont: bigTick, tickPad: 4.4, tickLen: 12, axisColor: '#333', axisW: 2, ymax: 1738,
  series: seriesC, offsets: offC_main, labels: labelsC, colors: colorsC, lw: 3,
  xTitle: '2θ (degree)', xTitleFont: xTitleF, xTitlePad: 13.6});

PANELS.cD = {frameColor: '#333', frameW: 2, tickW: 2, minor: ramanMinor, minorLen: 7,
  yTitle: {text: 'Raman Intensity (a.u.)', x: 51, y: 346, font: 'bold 31px ' + SANS},
  legend: {x: 413, y: 25, w: 537, h: 169, rows: [52, 83.6, 114.5, 145, 176], x0: 433, len: 63, tx: 501, font: 'bold 26px ' + SANS, lw: 4.5, border: '#777', bw: 1.5},
  notes: notesD, noteFont: 'bold 25px ' + SANS, supFont: 'bold 16px ' + SANS, arrow: arrowD};
makeChart('cD', {area: {left: 129, top: 13.5, right: 961, bottom: 641.5}, xmin: 91, xmax: 900, ticks: ramanTicks,
  tickFont: bigTick, tickPad: 2.9, tickLen: 12, axisColor: '#333', axisW: 2, ymax: 628,
  series: seriesD, offsets: offD, labels: labelsD, colors: colorsD, lw: 3.5,
  xTitle: 'Raman Shift (cm⁻¹)', xTitleFont: {family: SANS, size: 30, weight: 'bold'}, xTitlePad: 5});

// ---- insets ----
PANELS.iA = {frameColor: '#666', frameW: 1.5, tickW: 1.5, minor: minorXRD, minorLen: 3,
  inset: {x: 7, y: 8, w: 518, h: 466, color: '#ffe600', lw: 4, dash: [20, 12]},
  hkl: hklA, hklFont: '17px ' + SANS, hklSym: '15px ' + SYM, hklSymSize: 15,
  key: {sx: 455, tx: 464, y0: 43, dy: 23, font: 'bold 15px ' + SANS, symFont: '13px ' + SYM}};
makeChart('iA', {area: {left: 30, top: 23, right: 503, bottom: 437}, xmin: 20, xmax: 60, ticks: xTicksXRD,
  tickFont: {family: SANS, size: 18, weight: 'bold'}, tickPad: 3.2, tickLen: 6, axisColor: '#555', axisW: 1.5, ymax: 414,
  series: seriesA, offsets: offA_inset, labels: labelsA, colors: colorsA, lw: 2});

PANELS.iB = {frameColor: '#777', frameW: 1.5, tickW: 1.5, minor: minorXRD, minorLen: 3,
  inset: {x: 10, y: 8, w: 488, h: 428, color: '#d0103a', lw: 3, dash: [14, 6, 3, 6]},
  hkl: hklB, hklFont: '15px ' + SANS, hklSym: '14px ' + SYM, hklSymSize: 14,
  key: {sx: 440, tx: 446, y0: 38, dy: 21, font: 'bold 14px ' + SANS, symFont: '12px ' + SYM}};
makeChart('iB', {area: {left: 27, top: 20, right: 486, bottom: 401}, xmin: 20, xmax: 60, ticks: xTicksXRD,
  tickFont: {family: SANS, size: 17, weight: 'bold'}, tickPad: 4.8, tickLen: 6, axisColor: '#667', axisW: 1.5, ymax: 381,
  series: seriesB, offsets: offB_inset, labels: labelsB, colors: colorsB, lw: 2});

PANELS.iC = {frameColor: '#778', frameW: 1.5, tickW: 1.5, minor: minorXRD, minorLen: 3,
  inset: {x: 8, y: 9, w: 512, h: 378, color: '#19aac8', lw: 4, dash: [22, 12]},
  hkl: hklC, hklFont: '17px ' + SANS, hklSym: '15px ' + SYM, hklSymSize: 15,
  key: {sx: 449, tx: 460, y0: 35.5, dy: 18.5, font: 'bold 15px ' + SANS, symFont: '12px ' + SYM}};
makeChart('iC', {area: {left: 26, top: 19, right: 499, bottom: 357}, xmin: 20, xmax: 60, ticks: xTicksXRD,
  tickFont: {family: SANS, size: 18, weight: 'bold'}, tickPad: 1.2, tickLen: 6, axisColor: '#667', axisW: 1.5, ymax: 337,
  series: seriesC, offsets: offC_inset, labels: labelsC, colors: colorsC, lw: 2});
</script>
</body></html>
